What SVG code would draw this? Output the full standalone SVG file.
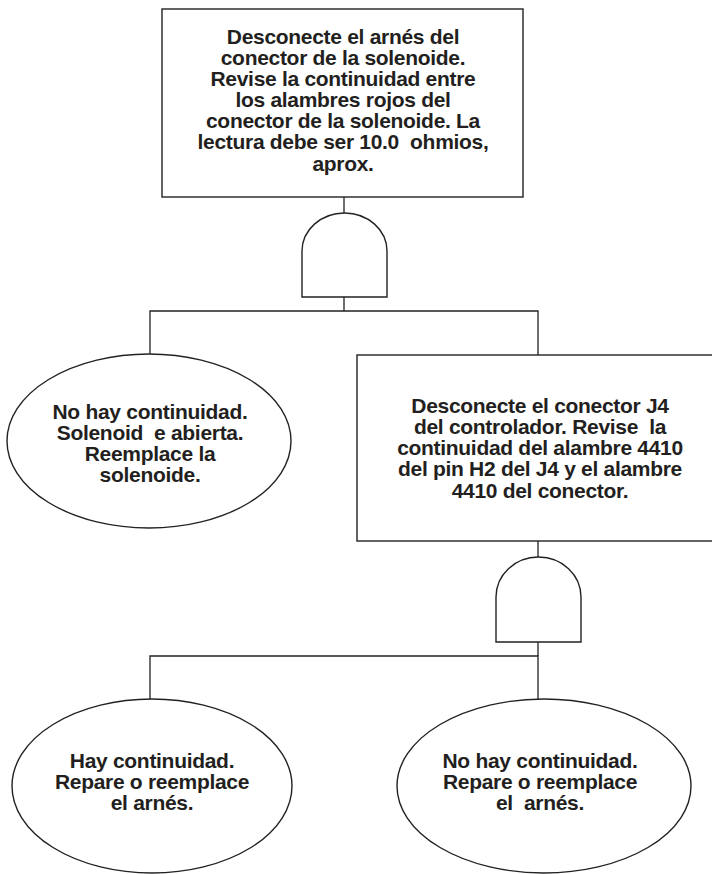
<svg xmlns="http://www.w3.org/2000/svg" width="712" height="874" viewBox="0 0 712 874">
<style>
.shape{fill:#fff;stroke:#222;stroke-width:1.4}
.wire{fill:none;stroke:#222;stroke-width:1.3}
text{font-family:"Liberation Sans",Arial,sans-serif;font-weight:bold;font-size:21px;letter-spacing:-0.3px;fill:#231f20;text-anchor:middle;white-space:pre}
</style>
<rect width="712" height="874" fill="#fff"/>
<g id="connectors">
<path class="wire" d="M344,197V213"/>
<path class="wire" d="M344,297V311"/>
<path class="wire" d="M150,354V311H538V355"/>
<path class="wire" d="M538,541V557"/>
<path class="wire" d="M538,642V656"/>
<path class="wire" d="M150,699V656H538V699"/>
</g>
<g id="top-box">
<rect class="shape" x="162" y="9" width="361" height="188"/>
<text x="343" y="44">Desconecte el arnés del</text>
<text x="343" y="65">conector de la solenoide.</text>
<text x="343" y="86">Revise la continuidad entre</text>
<text x="343" y="107">los alambres rojos del</text>
<text x="343" y="128">conector de la solenoide. La</text>
<text x="343" y="149">lectura debe ser 10.0  ohmios,</text>
<text x="343" y="171">aprox.</text>
</g>
<g id="gate1">
<path class="shape" d="M302,297V251A42.5,38 0 0 1 387,251V297Z"/>
</g>
<g id="left-ellipse">
<ellipse class="shape" cx="149" cy="441" rx="142" ry="87"/>
<text x="150" y="419">No hay continuidad.</text>
<text x="150" y="440">Solenoid  e abierta.</text>
<text x="150" y="461">Reemplace la</text>
<text x="150" y="482">solenoide.</text>
</g>
<g id="right-box">
<rect class="shape" x="357" y="355" width="366" height="186"/>
<text x="540" y="413">Desconecte el conector J4</text>
<text x="540" y="434">del controlador. Revise  la</text>
<text x="540" y="455">continuidad del alambre 4410</text>
<text x="540" y="476">del pin H2 del J4 y el alambre</text>
<text x="540" y="498">4410 del conector.</text>
</g>
<g id="gate2">
<path class="shape" d="M496,642V597A42.5,40 0 0 1 581,597V642Z"/>
</g>
<g id="bottom-left-ellipse">
<ellipse class="shape" cx="152" cy="786" rx="140" ry="87"/>
<text x="152" y="768">Hay continuidad.</text>
<text x="152" y="789">Repare o reemplace</text>
<text x="152" y="810">el arnés.</text>
</g>
<g id="bottom-right-ellipse">
<ellipse class="shape" cx="544" cy="786" rx="147" ry="87"/>
<text x="540" y="768">No hay continuidad.</text>
<text x="540" y="789">Repare o reemplace</text>
<text x="540" y="810">el  arnés.</text>
</g>
</svg>
